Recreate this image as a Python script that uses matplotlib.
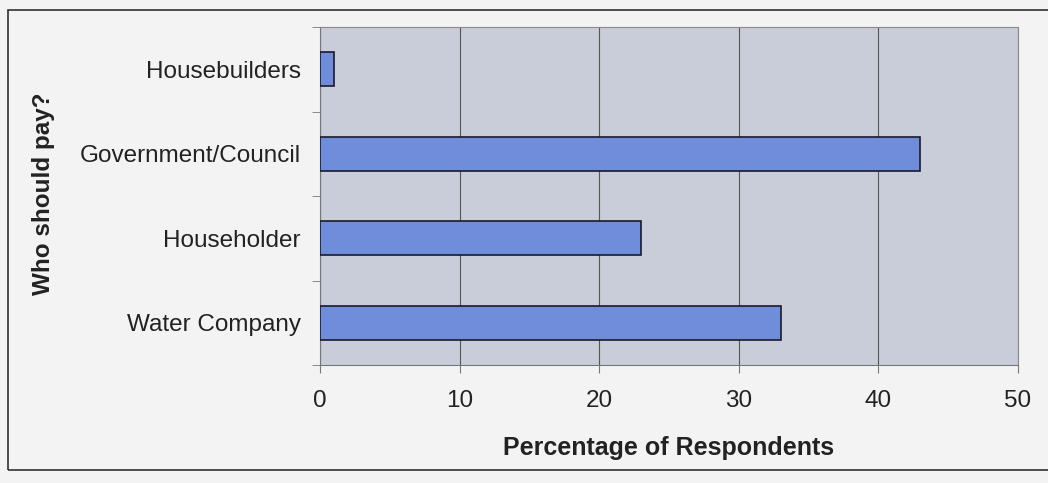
import matplotlib.pyplot as plt
from matplotlib.patches import Rectangle

plt.rcParams['font.family'] = ['Liberation Sans', 'DejaVu Sans']

categories = ["Water Company", "Householder", "Government/Council", "Housebuilders"]
values = [33, 23, 43, 1]
xticks = [0, 10, 20, 30, 40, 50]

fig = plt.figure(figsize=(10.48, 4.83), dpi=100)
fig.patch.set_facecolor("#f3f3f3")

# outer chart frame like the Excel chart area
fig.patches.append(Rectangle((8 / 1048, 1 - 470 / 483), 1045 / 1048, 460 / 483,
                             transform=fig.transFigure, fill=False,
                             edgecolor="#303030", lw=1.2))

ax = fig.add_axes([320 / 1048, 1 - 365 / 483, 698 / 1048, 338 / 483])
ax.set_facecolor("#c8cdd9")

ypos = range(len(categories))
ax.barh(ypos, values, height=0.4, color="#6f8ddb", edgecolor="#1a1a2a", lw=1.2, zorder=3)

ax.set_xlim(0, 50)
ax.set_ylim(-0.5, len(categories) - 0.5)
ax.set_xticks(xticks)
ax.set_xticklabels([str(t) for t in xticks], fontsize=17.5, color="#222222")
ax.set_yticks(list(ypos))
ax.set_yticklabels(categories, fontsize=17.5, color="#222222")
ax.tick_params(axis="y", length=0, pad=14)
ax.tick_params(axis="x", length=6, color="#777777", pad=12)

# minor ticks on the category boundaries
ax.set_yticks([i - 0.5 for i in range(len(categories) + 1)], minor=True)
ax.tick_params(axis="y", which="minor", length=6, color="#777777")

ax.grid(axis="x", color="#555555", lw=0.8, zorder=1)
for s in ["top", "right"]:
    ax.spines[s].set_color("#8a8a8a")
for s in ["left", "bottom"]:
    ax.spines[s].set_color("#777777")

ax.set_xlabel("Percentage of Respondents", fontsize=18, fontweight="bold",
              color="#222222", labelpad=17)
fig.text(44 / 1048, 1 - 194 / 483, "Who should pay?", rotation=90, fontsize=17.5,
         fontweight="bold", color="#222222", ha="center", va="center")

fig.savefig("out.png", dpi=100, facecolor=fig.get_facecolor())
